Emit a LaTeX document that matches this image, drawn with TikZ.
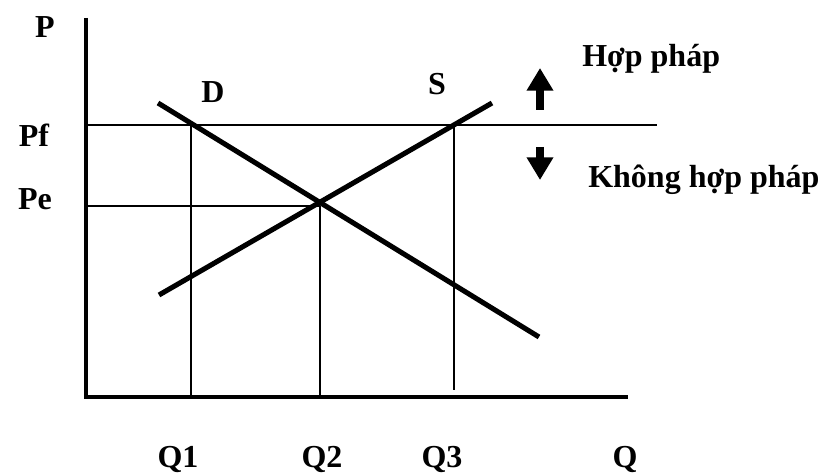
\documentclass[tikz,border=0pt]{standalone}
\usepackage{fontspec}
\setmainfont{Liberation Serif}
\usetikzlibrary{arrows.meta}

\tikzset{
  axisline/.style={line width=2.6pt},
  curve/.style={line width=3.8pt},
  guide/.style={line width=1.3pt},
  lbl/.style={font=\fontsize{24}{28}\selectfont\bfseries, inner sep=0pt, anchor=base},
  bigarrow/.style={line width=6pt, -{Triangle[length=17pt,width=19pt]}}
}

\begin{document}
\begin{tikzpicture}[x=0.75pt,y=-0.75pt]
\useasboundingbox (0,0) rectangle (822,474);
% axes
\coordinate (top) at (86,18);
\coordinate (O) at (86,397);
\coordinate (right) at (628,397);
\draw[axisline] (top) -- (O) -- (right);
% price levels and quantities
\coordinate (pf0) at (86,125);
\coordinate (pf1) at (657,125);
\coordinate (pe0) at (86,206);
\coordinate (E) at (320,206);
\coordinate (A) at (191,125);
\coordinate (B) at (454,125);
\draw[guide] (pf0) -- (pf1);
\draw[guide] (pe0) -- (E);
\draw[guide] (A) -- (191,395);
\draw[guide] (E) -- (320,397);
\draw[guide] (B) -- (454,390);
% D
\coordinate (d0) at (158,103);
\coordinate (d1) at (539,337);
\draw[curve] (d0) -- (d1);
% S
\coordinate (s0) at (159,295);
\coordinate (s1) at (492,103);
\draw[curve] (s0) -- (s1);
% labels
\node[lbl] (lP) at (45,38) {P};
\node[lbl] (lPf) at (34,147) {Pf};
\node[lbl] (lPe) at (35,210) {Pe};
\node[lbl] (lD) at (213,103) {D};
\node[lbl] (lS) at (437,95) {S};
\node[lbl] (lQ1) at (178,467) {Q1};
\node[lbl] (lQ2) at (322,467) {Q2};
\node[lbl] (lQ3) at (442,467) {Q3};
\node[lbl] (lQ) at (625,467) {Q};
\node[lbl,anchor=base west] (legal) at (582,67) {Hợp pháp};
\node[lbl,anchor=base west] (illegal) at (588,188) {Không hợp pháp};
% arrows
\coordinate (up0) at (540,110);
\coordinate (up1) at (540,68);
\coordinate (dn0) at (540,147);
\coordinate (dn1) at (540,180);
\draw[bigarrow] (up0) -- (up1);
\draw[bigarrow] (dn0) -- (dn1);
\end{tikzpicture}
\end{document}
